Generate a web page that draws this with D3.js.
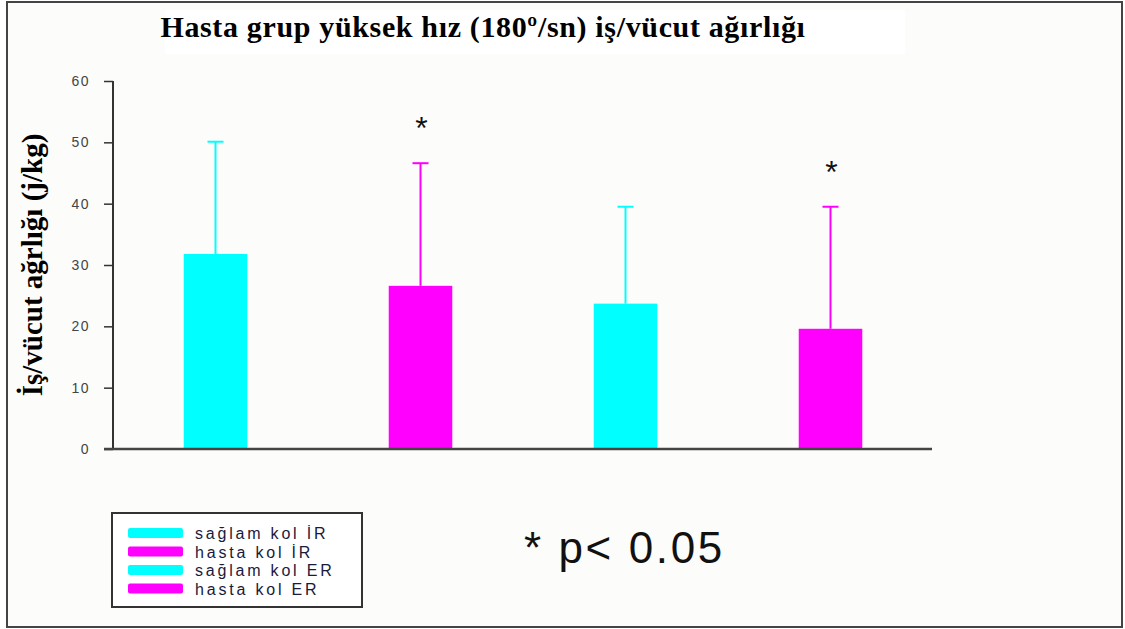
<!DOCTYPE html>
<html>
<head>
<meta charset="utf-8">
<script src="https://cdn.jsdelivr.net/npm/d3@7"></script>
<style>
body { margin:0; background:#fff; }
</style>
</head>
<body>
<svg id="chart"></svg>
<script>
// data
var categories = ["sağlam kol İR", "hasta kol İR", "sağlam kol ER", "hasta kol ER"];
var means = [31.8, 26.6, 23.7, 19.6];
var sdUpper = [50.1, 46.6, 39.5, 39.5];
var significant = [false, true, false, true];
var colors = ["#00ffff", "#ff00ff", "#00ffff", "#ff00ff"];
var yTicks = [0, 10, 20, 30, 40, 50, 60];

var screen = {width:1125, height:629};
var margins = {top:81, left:113};
var graph = {width:819, height:368};

var svg = d3.select("#chart")
    .attr("width", screen.width)
    .attr("height", screen.height);

// background + frame
svg.append("rect")
    .attr("x", 7).attr("y", 2)
    .attr("width", 1115).attr("height", 625)
    .attr("fill", "#fcfcfa")
    .attr("stroke", "#444")
    .attr("stroke-width", 2);

svg.append("rect")
    .attr("x", 165).attr("y", 10)
    .attr("width", 740).attr("height", 44)
    .attr("fill", "#ffffff");

// title
svg.append("text")
    .text("Hasta grup yüksek hız (180º/sn) iş/vücut ağırlığı")
    .attr("x", 483).attr("y", 37)
    .attr("text-anchor", "middle")
    .style("font-family", "'Liberation Serif', 'DejaVu Serif', serif")
    .style("font-weight", "bold")
    .style("font-size", "30px")
    .style("letter-spacing", "0.65px")
    .attr("fill", "#000");

var xScale = d3.scaleBand()
    .domain(categories)
    .range([0, 820])
    .paddingInner(0.69)
    .paddingOuter(0.345);

var yScale = d3.scaleLinear()
    .domain([0, 60])
    .range([graph.height, 0]);

var g = svg.append("g")
    .attr("transform", "translate(" + margins.left + "," + margins.top + ")");

// bars
g.selectAll("rect.bar")
    .data(categories)
    .enter()
    .append("rect")
    .attr("class", "bar")
    .attr("x", function(d){ return xScale(d); })
    .attr("width", xScale.bandwidth())
    .attr("y", function(d, i){ return yScale(means[i]); })
    .attr("height", function(d, i){ return graph.height - yScale(means[i]); })
    .attr("fill", function(d, i){ return colors[i]; });

// error bars (upper only)
var errs = g.selectAll("g.err")
    .data(categories)
    .enter()
    .append("g")
    .attr("class", "err");

errs.append("line")
    .attr("x1", function(d){ return xScale(d) + xScale.bandwidth()/2; })
    .attr("x2", function(d){ return xScale(d) + xScale.bandwidth()/2; })
    .attr("y1", function(d, i){ return yScale(means[i]); })
    .attr("y2", function(d, i){ return yScale(sdUpper[i]); })
    .attr("stroke", function(d, i){ return colors[i]; })
    .attr("stroke-width", 2);

errs.append("line")
    .attr("x1", function(d){ return xScale(d) + xScale.bandwidth()/2 - 8; })
    .attr("x2", function(d){ return xScale(d) + xScale.bandwidth()/2 + 8; })
    .attr("y1", function(d, i){ return yScale(sdUpper[i]); })
    .attr("y2", function(d, i){ return yScale(sdUpper[i]); })
    .attr("stroke", function(d, i){ return colors[i]; })
    .attr("stroke-width", 2);

// significance stars
g.selectAll("text.star")
    .data(categories.filter(function(d, i){ return significant[i]; }))
    .enter()
    .append("text")
    .attr("class", "star")
    .text("*")
    .attr("x", function(d){ return xScale(d) + xScale.bandwidth()/2 + 1; })
    .attr("y", function(d){ var i = categories.indexOf(d); return yScale(sdUpper[i]) - 24; })
    .attr("text-anchor", "middle")
    .style("font-family", "'Liberation Sans', Arial, sans-serif")
    .style("font-size", "32px")
    .attr("fill", "#111");

// axes
var yAxis = d3.axisLeft(yScale)
    .tickValues(yTicks)
    .tickSize(9)
    .tickPadding(14);

var ya = g.append("g").call(yAxis);
ya.select(".domain").attr("stroke", "#333").attr("stroke-width", 2)
    .attr("d", "M0,0V" + graph.height);
ya.selectAll(".tick line").attr("stroke", "#333").attr("stroke-width", 1.5);
ya.selectAll(".tick text")
    .style("font-family", "'Liberation Sans', Arial, sans-serif")
    .style("font-size", "14px")
    .style("letter-spacing", "1.5px")
    .attr("fill", "#444");

g.append("line")
    .attr("x1", -9).attr("x2", graph.width)
    .attr("y1", graph.height).attr("y2", graph.height)
    .attr("stroke", "#444")
    .attr("stroke-width", 2.5);

// y label
svg.append("text")
    .text("İş/vücut ağrlığı (j/kg)")
    .attr("transform", "translate(42,265) rotate(-90)")
    .attr("text-anchor", "middle")
    .style("font-family", "'Liberation Serif', 'DejaVu Serif', serif")
    .style("font-weight", "bold")
    .style("font-size", "29px")
    .attr("fill", "#000");

// legend
var legend = svg.append("g")
    .attr("transform", "translate(112,513)");

legend.append("rect")
    .attr("width", 250).attr("height", 94)
    .attr("fill", "#fff")
    .attr("stroke", "#333")
    .attr("stroke-width", 2);

var items = legend.selectAll("g.item")
    .data(categories)
    .enter()
    .append("g")
    .attr("class", "item")
    .attr("transform", function(d, i){ return "translate(16," + (15 + i * 18.5) + ")"; });

items.append("rect")
    .attr("width", 55).attr("height", 10)
    .attr("rx", 2)
    .attr("fill", function(d, i){ return colors[i]; });

items.append("text")
    .text(function(d){ return d; })
    .attr("x", 67).attr("y", 11)
    .style("font-family", "'Liberation Sans', Arial, sans-serif")
    .style("font-size", "16px")
    .style("letter-spacing", "2.8px")
    .attr("fill", "#1a1a3a");

// p note
svg.append("text")
    .text("* p< 0.05")
    .attr("x", 524).attr("y", 563)
    .style("font-family", "'Liberation Sans', Arial, sans-serif")
    .style("font-size", "44px")
    .style("letter-spacing", "2.6px")
    .attr("fill", "#111");
</script>
</body>
</html>
